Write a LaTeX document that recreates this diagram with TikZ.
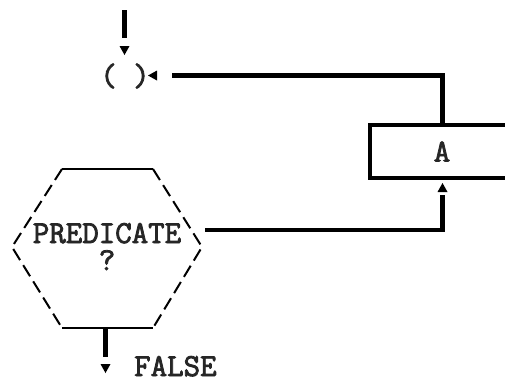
\documentclass[tikz,border=0pt]{standalone}
\usepackage{fontspec}
\setmonofont{Latin Modern Mono}[FakeBold=2.5]
\usetikzlibrary{calc}
% heavy typewriter face
\newcommand\typeface{\fontsize{32}{32}\ttfamily}
\tikzset{
  conn/.style={line width=4.5pt},
  tipfill/.style={fill=black},
  lbl/.style={font=\typeface, inner sep=0pt, text=black!85},
  hexside/.style={line width=2pt, dash pattern=on 13pt off 6pt},
  hexcap/.style={line width=2pt},
  actbox/.style={draw, line width=4.5pt, minimum width=144pt, minimum height=53pt, inner sep=0pt, outer sep=0pt},
}
% small detached arrowheads: tip point given, pointing down / up / left
\newcommand\tipdown[1]{\fill[tipfill] (#1) -- ++(-5,-9) -- ++(10,0) -- cycle;}
\newcommand\tipup[1]{\fill[tipfill] (#1) -- ++(-5,9) -- ++(10,0) -- cycle;}
\newcommand\tipleft[1]{\fill[tipfill] (#1) -- ++(9,-5) -- ++(0,10) -- cycle;}
\begin{document}
\begin{tikzpicture}[x=1pt,y=-1pt]
\clip (0,0) rectangle (505,381);
\fill[white] (0,0) rectangle (505,381);

% entry point and join
\coordinate (src) at (124.5,10);
\node[lbl] (paren) at (125,76) {( )};

% action box, running off the right edge
\node[actbox, lbl] (A) at (442,151.5) {A};

% predicate hexagon
\draw[hexcap] (62,169) -- (153,169);
\draw[hexcap] (62,328) -- (153,328);
\draw[hexside] (153,169) -- (202,247) -- (153,328);
\draw[hexside] (62,169) -- (12,247) -- (62,328);
\node[lbl, anchor=base] (pred) at (107,243) {PREDICATE};
\node[lbl, anchor=base] (qmark) at (107,270) {?};
\node[lbl, anchor=base west] (false) at (134,376) {FALSE};

% connector points
\coordinate (inEnd) at (124.5,38);
\coordinate (inTip) at (124.5,55);
\coordinate (loopEnd) at (172,75.5);
\coordinate (loopTip) at (148,75.5);
\coordinate (predOut) at (205,230);
\coordinate (trueEnd) at (442.5,195);
\coordinate (trueTip) at (442.5,183);
\coordinate (hexBot) at (105.5,328);
\coordinate (falseEnd) at (105.5,357);
\coordinate (falseTip) at (105.5,373);

% connectors
\draw[conn] (src) -- (inEnd);
\tipdown{inTip}
\draw[conn] (A.north -| trueEnd) |- (loopEnd);
\tipleft{loopTip}
\draw[conn] (predOut) -| (trueEnd);
\tipup{trueTip}
\draw[conn] (hexBot) -- (falseEnd);
\tipdown{falseTip}
\end{tikzpicture}
\end{document}
